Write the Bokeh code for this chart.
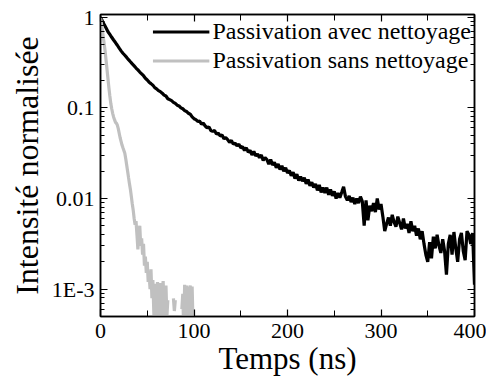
import math
from bokeh.plotting import figure
from bokeh.models import (Range1d, FixedTicker, LinearAxis, LogAxis, Legend, LegendItem,
                          CustomJSTickFormatter)
from bokeh.embed import file_html
from bokeh.resources import INLINE

nan = float("nan")

# --- data -------------------------------------------------------------
time_black = list(range(0, 402, 2))
black = [
    1.0, 0.91, 0.83, 0.76, 0.69, 0.645, 0.60, 0.56, 0.525, 0.49,
    0.455, 0.425, 0.40, 0.38, 0.36, 0.34, 0.322, 0.305, 0.29, 0.275,
    0.262, 0.248, 0.237, 0.226, 0.212, 0.203, 0.192, 0.185, 0.178, 0.167,
    0.162,
    0.155, 0.151, 0.145, 0.138, 0.135, 0.126, 0.123, 0.120, 0.115, 0.112,
    0.107, 0.105, 0.100, 0.0977, 0.0933, 0.0912, 0.0871, 0.0851, 0.0794, 0.0759,
    0.0741, 0.0708, 0.0716, 0.0661, 0.0676, 0.0631, 0.0603, 0.0617, 0.0562, 0.0550,
    0.0562, 0.0513, 0.0525, 0.0490, 0.0501, 0.0457, 0.0468, 0.0447, 0.0417, 0.0437,
    0.0398, 0.0407, 0.0380, 0.0398, 0.0363, 0.0372, 0.0339, 0.0363, 0.0324, 0.0339,
    0.0302, 0.0331, 0.0295, 0.0309, 0.0282, 0.0302, 0.0263, 0.0282, 0.0269, 0.0240,
    0.0269, 0.0234, 0.0251, 0.0219, 0.0240, 0.0209, 0.0229, 0.0200, 0.0219, 0.0191,
    0.0204, 0.0178, 0.0195, 0.0166, 0.0186, 0.0158, 0.0174, 0.0155, 0.0170, 0.0145,
    0.0162, 0.0138, 0.0151, 0.0132, 0.0145, 0.0123, 0.0141, 0.0117, 0.0132, 0.0115,
    0.0132, 0.0110, 0.0126, 0.0107, 0.0120, 0.0100, 0.0115, 0.0102, 0.0117, 0.0135,
    0.0105, 0.00955, 0.0107, 0.00912, 0.0102, 0.00871, 0.0100, 0.00891, 0.0105, 0.00933,
    0.00501, 0.00955, 0.00575, 0.00832, 0.00724, 0.00891, 0.00708, 0.0100, 0.00759, 0.00871,
    0.00631, 0.00437, 0.00525, 0.00617, 0.00501, 0.00661, 0.00550, 0.00490, 0.00631, 0.00537,
    0.00457, 0.00603, 0.00468, 0.00525, 0.00417, 0.00562, 0.00437, 0.00501, 0.00389, 0.00468,
    0.00355, 0.00437, 0.00316, 0.00240, 0.00200, 0.00331, 0.00219, 0.00380, 0.00282, 0.00398,
    0.00302, 0.00251, 0.00355, 0.00263, 0.00145, 0.00316, 0.00398, 0.00240, 0.00427, 0.00282,
    0.00200, 0.00355, 0.00417, 0.00263, 0.00209, 0.00437, 0.00398, 0.00316, 0.00417, 0.00112,
]

time_gray = list(range(0, 101))
gray = [
    1.0, 0.851, 0.724, 0.603, 0.501, 0.417, 0.331, 0.263, 0.209, 0.166,
    0.135, 0.112, 0.0977, 0.0871, 0.0794, 0.0741, 0.0692, 0.0676, 0.0646, 0.0589,
    0.0525, 0.0468, 0.0427, 0.0389, 0.0363, 0.0339, 0.0316, 0.0275, 0.0234, 0.0200,
    0.0170, 0.0145, 0.0126, 0.0105, 0.00871, 0.00741, 0.00603, 0.00513, 0.00562, 0.00398,
    0.00275, 0.00417, 0.00501, 0.00302, 0.00363, 0.00240, 0.00316, 0.00182, 0.00229, 0.00151,
    0.00200, 0.00120, 0.00145, 0.00100, 0.00166, 0.000794, 0.00126, 0.000562, 0.000355, 0.00115,
    0.000708, 0.00120, 0.000355, 0.000891, 0.00117, 0.000398, 0.000891, 0.00123, 0.000631, 0.000355,
    0.00110, 0.000501, 0.000759, nan, nan, nan, nan, nan, 0.000794, 0.000575,
    0.000759, nan, nan, nan, nan, nan, nan, 0.000603, 0.000891, 0.000355,
    0.00112, 0.000398, 0.00110, 0.000447, 0.00107, 0.000794, 0.00110, 0.000355, 0.00107, 0.000398,
    nan,
]

series_names = ["Passivation avec nettoyage", "Passivation sans nettoyage"]
x_ticks = [0, 100, 200, 300, 400]
x_minor = [50, 150, 250, 350]
y_ticks = [0.001, 0.01, 0.1, 1]
y_minor = [m * 10.0 ** e for e in (-4, -3, -2, -1) for m in range(2, 10)]

FONT = "'Liberation Serif', 'Times New Roman', serif"

p = figure(frame_width=374, frame_height=302, output_backend="svg", toolbar_location=None,
           y_axis_type="log",
           x_range=Range1d(0, 400), y_range=Range1d(5e-4, 1.07),
           min_border_left=100, min_border_right=12, min_border_top=14, min_border_bottom=60)
p.grid.visible = False
p.outline_line_color = "black"
p.outline_line_width = 1.5
p.background_fill_color = "white"
p.border_fill_color = "white"

r1 = p.line(time_black, black, line_color="black", line_width=3.2)
r2 = p.line(time_gray, gray, line_color="#c0c0c0", line_width=3.2)

blank = CustomJSTickFormatter(code="return '';")

def style_axis(ax, labels=True):
    ax.axis_line_color = "black"
    ax.axis_line_width = 1.5
    ax.major_tick_line_color = "black"
    ax.minor_tick_line_color = "black"
    ax.major_tick_line_width = 1.2
    ax.minor_tick_line_width = 1.0
    ax.major_tick_in = 7
    ax.major_tick_out = 0
    ax.minor_tick_in = 4
    ax.minor_tick_out = 0
    ax.major_label_text_font = FONT
    ax.major_label_text_color = "black"
    ax.axis_label_text_color = "black"
    ax.major_label_text_font_size = "22px"
    if not labels:
        ax.formatter = blank
        ax.major_label_standoff = 0

# bottom axis
xa = p.xaxis[0]
xa.ticker = FixedTicker(ticks=x_ticks, minor_ticks=x_minor)
style_axis(xa)
xa.minor_tick_in = 6
xa.major_label_standoff = 7
xa.axis_label = "Temps (ns)"
xa.axis_label_text_font = FONT
xa.axis_label_text_font_size = "31px"
xa.axis_label_text_font_style = "normal"
xa.axis_label_standoff = 0

# left axis
ya = p.yaxis[0]
ya.ticker = FixedTicker(ticks=y_ticks, minor_ticks=y_minor)
style_axis(ya)
ya.major_label_standoff = 6
ya.formatter = CustomJSTickFormatter(code="""
    if (Math.abs(tick - 0.001) < 1e-9) { return '1E-3'; }
    if (Math.abs(tick - 0.01) < 1e-9) { return '0.01'; }
    if (Math.abs(tick - 0.1) < 1e-9) { return '0.1'; }
    if (Math.abs(tick - 1) < 1e-9) { return '1'; }
    return tick.toString();
""")
ya.axis_label = "Intensité normalisée"
ya.axis_label_text_font = FONT
ya.axis_label_text_font_size = "32px"
ya.axis_label_text_font_style = "normal"
ya.axis_label_standoff = 4

# mirrored axes (ticks only)
top = LinearAxis(ticker=FixedTicker(ticks=x_ticks, minor_ticks=x_minor))
style_axis(top, labels=False)
top.minor_tick_in = 6
p.add_layout(top, "above")
right = LogAxis(ticker=FixedTicker(ticks=y_ticks, minor_ticks=y_minor))
style_axis(right, labels=False)
p.add_layout(right, "right")

legend = Legend(items=[LegendItem(label=series_names[0], renderers=[r1]),
                       LegendItem(label=series_names[1], renderers=[r2])],
                location="top_right")
legend.label_text_font = FONT
legend.label_text_font_size = "24px"
legend.label_text_color = "black"
legend.glyph_width = 57
legend.glyph_height = 29
legend.label_height = 29
legend.label_standoff = 3
legend.spacing = 0
legend.padding = 2
legend.margin = 3
legend.border_line_color = None
legend.background_fill_alpha = 0
p.add_layout(legend)

open("out.html", "w").write(file_html(p, INLINE))
